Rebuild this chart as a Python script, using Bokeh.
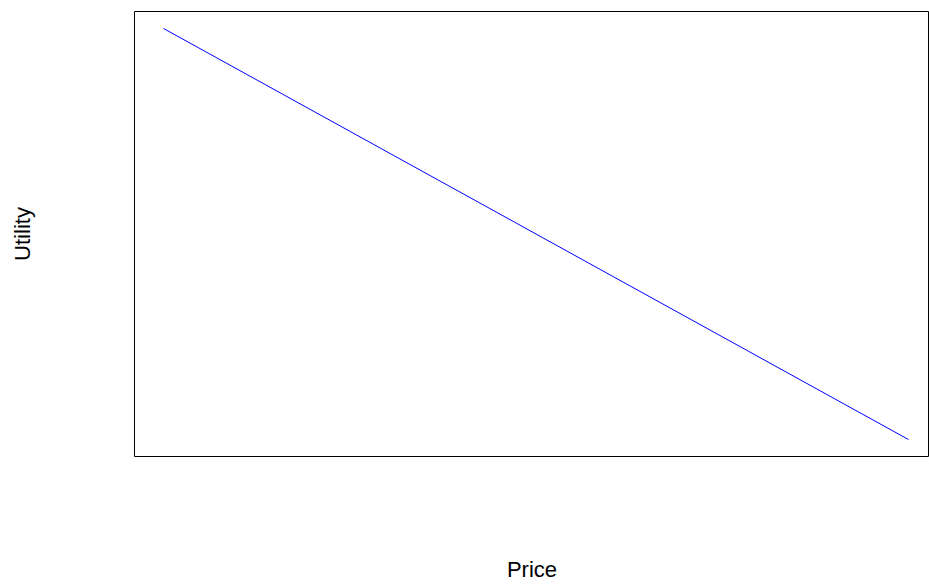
from bokeh.plotting import figure
from bokeh.models import Range1d
from bokeh.embed import file_html
from bokeh.resources import INLINE

price = [10, 20, 30, 40, 50]
utility = [2.0, 1.5, 1.0, 0.5, 0.0]

p = figure(width=929, height=584, output_backend="svg", toolbar_location=None,
           x_range=Range1d(8.443, 51.128), y_range=Range1d(-0.0825, 2.0825),
           min_border_left=134, min_border_right=0, min_border_top=11, min_border_bottom=127)
p.background_fill_color = "white"
p.border_fill_color = "white"
p.outline_line_color = "black"
p.outline_line_width = 1
p.grid.visible = False

p.line(price, utility, line_color="blue", line_width=1)

for ax in (p.xaxis[0], p.yaxis[0]):
    ax.ticker = []
    ax.axis_line_color = None
    ax.major_tick_line_color = None
    ax.minor_tick_line_color = None
    ax.major_tick_out = 0
    ax.minor_tick_out = 0
    ax.major_label_standoff = 0
    ax.major_label_text_font_size = "0px"
    ax.axis_label_text_font = "Liberation Sans"
    ax.axis_label_text_font_size = "22px"
    ax.axis_label_text_font_style = "normal"
    ax.axis_label_text_color = "black"

p.xaxis[0].axis_label = "Price"
p.xaxis[0].axis_label_standoff = 100
p.yaxis[0].axis_label = "Utility"
p.yaxis[0].axis_label_standoff = 100

open("out.html", "w").write(file_html(p, INLINE))
